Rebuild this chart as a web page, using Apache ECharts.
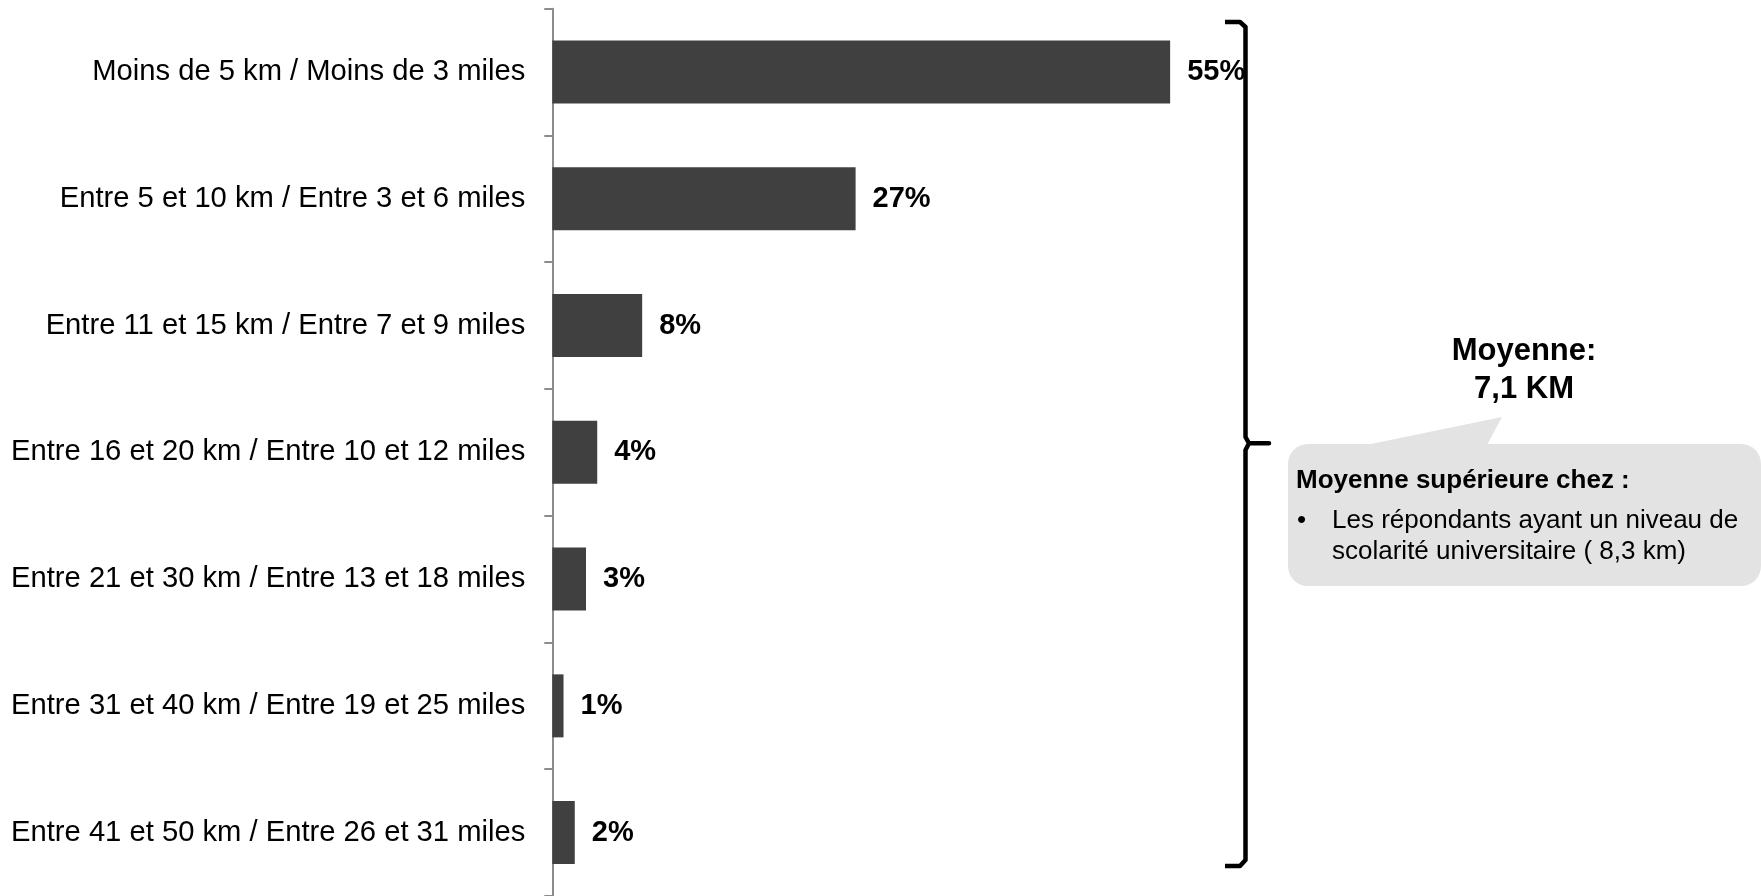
<!DOCTYPE html>
<html>
<head>
<meta charset="utf-8">
<script src="https://cdn.jsdelivr.net/npm/echarts@6/dist/echarts.min.js"></script>
<style>
html,body{margin:0;padding:0;background:#fff;}
#chart{width:1761px;height:896px;}
</style>
</head>
<body>
<div id="chart"></div>
<script>
const categories = [
  "Moins de 5 km / Moins de 3 miles",
  "Entre 5 et 10 km / Entre 3 et 6 miles",
  "Entre 11 et 15 km / Entre 7 et 9 miles",
  "Entre 16 et 20 km / Entre 10 et 12 miles",
  "Entre 21 et 30 km / Entre 13 et 18 miles",
  "Entre 31 et 40 km / Entre 19 et 25 miles",
  "Entre 41 et 50 km / Entre 26 et 31 miles"
];
const values = [55, 27, 8, 4, 3, 1, 2];
const meanTitle = "Moyenne:";
const meanValue = "7,1 KM";
const noteTitle = "Moyenne supérieure chez :";
const noteLines = ["Les répondants ayant un niveau de", "scolarité universitaire ( 8,3 km)"];

const FONT = '"Liberation Sans", Arial, sans-serif';
const chart = echarts.init(document.getElementById('chart'), null, {renderer: 'canvas'});

chart.setOption({
  animation: false,
  backgroundColor: '#ffffff',
  grid: {left: 552.3, top: 8.7, width: 674, height: 890, containLabel: false},
  xAxis: {
    type: 'value', min: 0, max: 60, show: false
  },
  yAxis: {
    type: 'category', data: categories, inverse: true,
    axisLine: {show: true, lineStyle: {color: '#8c8c8c', width: 2}},
    axisTick: {show: true, length: 8, lineStyle: {color: '#8c8c8c', width: 2}},
    axisLabel: {color: '#000', fontFamily: FONT, fontSize: 29.2, margin: 27},
    splitLine: {show: false}
  },
  series: [{
    type: 'bar', data: values, barWidth: '49.7%',
    itemStyle: {color: '#404040'},
    label: {
      show: true, position: 'right', distance: 17,
      formatter: p => p.value + '%',
      color: '#000', fontFamily: FONT, fontSize: 29, fontWeight: 'bold'
    }
  }],
  graphic: [
    {
      type: 'polyline', silent: true,
      shape: {points: [[1225,22],[1240,22],[1245.5,27],[1245.5,437],[1249,443.3],[1269,443.3],[1249,443.3],[1245.5,450],[1245.5,860],[1240,866],[1225,866]]},
      style: {stroke: '#000', lineWidth: 4.5, fill: null, lineJoin: 'round'}
    },
    {
      type: 'rect', silent: true,
      shape: {x: 1288, y: 444, width: 473, height: 142, r: 20},
      style: {fill: '#e3e3e3'}
    },
    {
      type: 'polygon', silent: true,
      shape: {points: [[1366,445],[1502,417],[1487,445]]},
      style: {fill: '#e3e3e3'}
    },
    {
      type: 'text', silent: true, x: 1524, y: 351.5,
      style: {text: meanTitle, font: 'bold 31px ' + FONT, fill: '#000', align: 'center', verticalAlign: 'middle'}
    },
    {
      type: 'text', silent: true, x: 1524, y: 389,
      style: {text: meanValue, font: 'bold 31px ' + FONT, fill: '#000', align: 'center', verticalAlign: 'middle'}
    },
    {
      type: 'text', silent: true, x: 1296, y: 481,
      style: {text: noteTitle, font: 'bold 26px ' + FONT, fill: '#000', align: 'left', verticalAlign: 'middle'}
    },
    {
      type: 'text', silent: true, x: 1297, y: 520.5,
      style: {text: '•', font: '26px ' + FONT, fill: '#000', align: 'left', verticalAlign: 'middle'}
    },
    {
      type: 'text', silent: true, x: 1332, y: 520.5,
      style: {text: noteLines[0], font: '26px ' + FONT, fill: '#000', align: 'left', verticalAlign: 'middle'}
    },
    {
      type: 'text', silent: true, x: 1332, y: 552,
      style: {text: noteLines[1], font: '26px ' + FONT, fill: '#000', align: 'left', verticalAlign: 'middle'}
    }
  ]
});
</script>
</body>
</html>
